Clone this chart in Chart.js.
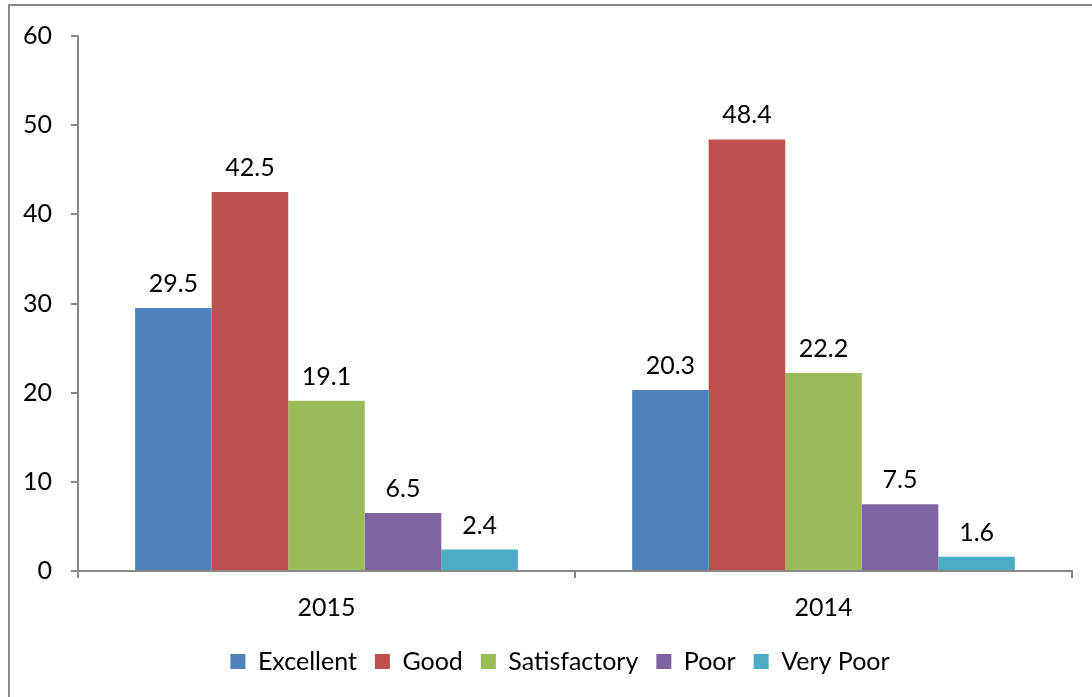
<!DOCTYPE html>
<html>
<head>
<meta charset="utf-8">
<script src="https://cdn.jsdelivr.net/npm/chart.js@4.4.1/dist/chart.umd.min.js"></script>
<style>
    html, body { margin: 0; padding: 0; background: #fff; }
    #wrap { position: relative; width: 1092px; height: 697px; }
</style>
</head>
<body>
<div id="wrap"><canvas id="chart" width="1092" height="697"></canvas></div>
<script>
// --- Data ---
const categories = ['2015', '2014'];
const seriesNames = ['Excellent', 'Good', 'Satisfactory', 'Poor', 'Very Poor'];
const excellent = [29.5, 20.3];
const good = [42.5, 48.4];
const satisfactory = [19.1, 22.2];
const poor = [6.5, 7.5];
const veryPoor = [2.4, 1.6];
const yTicks = [0, 10, 20, 30, 40, 50, 60];

const colors = ['#4F81BD', '#C0504D', '#9BBB59', '#8064A2', '#4BACC6'];
const seriesValues = [excellent, good, satisfactory, poor, veryPoor];
const FONT = 'Lato, "Open Sans", sans-serif';
const FSIZE = 25;
const axisGray = '#888888';

// outer frame, like the chart box of the spreadsheet
const framePlugin = {
    id: 'frame',
    beforeDraw(chart) {
        const ctx = chart.ctx;
        ctx.save();
        ctx.strokeStyle = '#8a8a8a';
        ctx.lineWidth = 2;
        ctx.strokeRect(9, 5, 1200, 800);
        ctx.restore();
        // legend is centred under the plot, not the whole canvas
        if (chart.legend) chart.legend.left = 48;
    }
};

// value labels above each bar
const valueLabels = {
    id: 'valueLabels',
    afterDatasetsDraw(chart) {
        const ctx = chart.ctx;
        ctx.save();
        ctx.font = FSIZE + 'px ' + FONT;
        ctx.fillStyle = '#000';
        ctx.textAlign = 'center';
        ctx.textBaseline = 'alphabetic';
        chart.data.datasets.forEach((ds, i) => {
            chart.getDatasetMeta(i).data.forEach((bar, j) => {
                ctx.fillText(ds.data[j].toFixed(1), bar.x, bar.y - 16);
            });
        });
        ctx.restore();
    }
};

new Chart(document.getElementById('chart'), {
    type: 'bar',
    data: {
        labels: categories,
        datasets: seriesNames.map((name, i) => ({
            label: name,
            data: seriesValues[i],
            backgroundColor: colors[i],
            borderWidth: 0,
            categoryPercentage: 0.77,
            barPercentage: 1
        }))
    },
    options: {
        responsive: false,
        animation: false,
        layout: { padding: { top: 36, right: 20, left: 0, bottom: 13 } },
        plugins: {
            legend: {
                position: 'bottom',
                labels: {
                    boxWidth: 15,
                    boxHeight: 15,
                    padding: 18,
                    color: '#000',
                    font: { size: FSIZE, family: FONT }
                }
            },
            tooltip: { enabled: false }
        },
        scales: {
            x: {
                afterFit: s => { s.height = 60; },
                grid: { drawOnChartArea: false, tickLength: 7, color: axisGray, lineWidth: 2 },
                border: { color: axisGray, width: 2 },
                ticks: { color: '#000', padding: 15, font: { size: FSIZE, family: FONT } }
            },
            y: {
                min: 0,
                max: 60,
                afterFit: s => { s.width = 78; },
                afterBuildTicks: s => { s.ticks = yTicks.map(v => ({ value: v })); },
                grid: { drawOnChartArea: false, tickLength: 7, color: axisGray, lineWidth: 2 },
                border: { color: axisGray, width: 2 },
                ticks: { color: '#000', padding: 19, font: { size: FSIZE, family: FONT } }
            }
        }
    },
    plugins: [framePlugin, valueLabels]
});
</script>
</body>
</html>
